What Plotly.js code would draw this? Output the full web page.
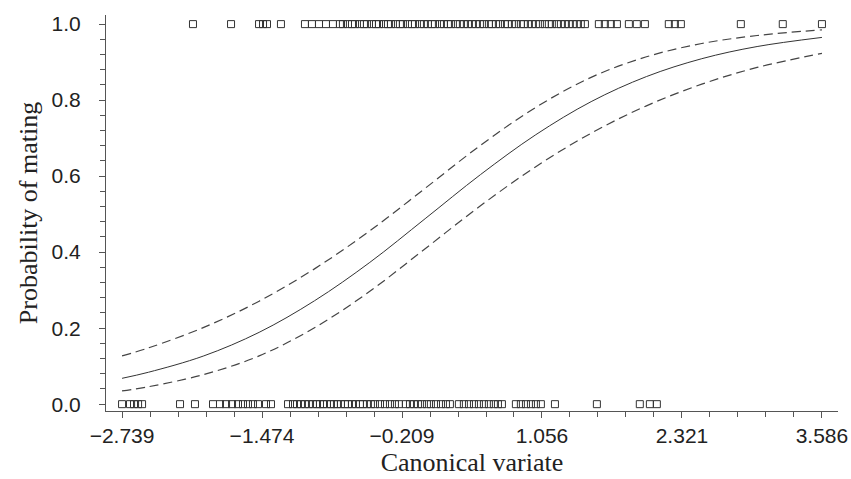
<!DOCTYPE html>
<html>
<head>
<meta charset="utf-8">
<script src="https://cdn.plot.ly/plotly-3.0.1.min.js"></script>
<style>html,body{margin:0;padding:0;background:#fff;}#chart{width:851px;height:479px;}</style>
</head>
<body>
<div id="chart"></div>
<script>
// Fitted probability curve and confidence limits
const curveX = [-2.739, -2.5, -2.0, -1.5, -1.0, -0.5, 0.0, 0.5, 1.0, 1.5, 2.0, 2.5, 3.0, 3.586];
const fitP   = [0.068, 0.084, 0.127, 0.189, 0.272, 0.373, 0.488, 0.604, 0.709, 0.796, 0.862, 0.909, 0.941, 0.965];
const upperP = [0.127, 0.148, 0.202, 0.271, 0.356, 0.456, 0.568, 0.681, 0.781, 0.860, 0.914, 0.949, 0.970, 0.985];
const lowerP = [0.035, 0.046, 0.078, 0.127, 0.201, 0.297, 0.409, 0.522, 0.625, 0.713, 0.785, 0.842, 0.886, 0.923];

// Observations: mated (1) and not mated (0)
const matedX = [-2.098, -1.754, -1.501, -1.465, -1.429, -1.303,
  -1.086, -1.023, -0.959, -0.896, -0.833,
  -0.770, -0.743, -0.697, -0.661, -0.634, -0.589, -0.553, -0.526, -0.481, -0.444,
  -0.417, -0.372, -0.336, -0.309, -0.264, -0.228, -0.201, -0.155, -0.119, -0.092,
  -0.047, -0.011, 0.025, 0.061, 0.089, 0.134, 0.170, 0.206, 0.233, 0.278,
  0.314, 0.350, 0.387, 0.423, 0.459, 0.495, 0.531, 0.576, 0.603, 0.640,
  0.676, 0.721, 0.748, 0.784, 0.820, 0.865, 0.892, 0.929, 0.965, 1.001,
  1.037, 1.082, 1.118, 1.145, 1.191, 1.227, 1.263, 1.299, 1.335, 1.371, 1.407, 1.444,
  1.570, 1.624, 1.678, 1.733, 1.841, 1.913, 1.986, 2.202, 2.257, 2.311,
  2.853, 3.232, 3.586];
const unmatedX = [-2.739, -2.667, -2.631, -2.594, -2.558, -2.215, -2.080,
  -1.917, -1.854, -1.799, -1.745, -1.691, -1.646, -1.601, -1.556, -1.510, -1.438, -1.393,
  -1.239, -1.194, -1.158, -1.122, -1.086, -1.050, -1.014, -0.977, -0.950, -0.923,
  -0.887, -0.851, -0.824, -0.797, -0.761, -0.725, -0.697, -0.661, -0.625, -0.589,
  -0.562, -0.526, -0.490, -0.454, -0.408, -0.363, -0.318, -0.273, -0.237,
  -0.174, -0.137, -0.101, -0.065, -0.029, 0.016, 0.052, 0.098, 0.143, 0.188, 0.224,
  0.305, 0.350, 0.396, 0.441, 0.486, 0.531, 0.576, 0.621, 0.658, 0.694,
  0.820, 0.865, 0.911, 0.956, 1.001, 1.046, 1.173, 1.552, 1.940, 2.031, 2.094];

const xTickVals = [-2.739, -1.474, -0.209, 1.056, 2.321, 3.586];
const xTickText = ['\u22122.739', '\u22121.474', '\u22120.209', '1.056', '2.321', '3.586'];
const yTickVals = [0, 0.2, 0.4, 0.6, 0.8, 1.0];
const yTickText = ['0.0', '0.2', '0.4', '0.6', '0.8', '1.0'];

const markerStyle = {symbol: 'square-open', size: 7, color: '#333', line: {width: 1, color: '#333'}};

const traces = [
  {x: matedX, y: matedX.map(() => 1), type: 'scatter', mode: 'markers', marker: markerStyle, cliponaxis: false, hoverinfo: 'x'},
  {x: unmatedX, y: unmatedX.map(() => 0), type: 'scatter', mode: 'markers', marker: markerStyle, cliponaxis: false, hoverinfo: 'x'},
  {x: curveX, y: upperP, type: 'scatter', mode: 'lines', line: {color: '#444', width: 1.2, dash: '9px,5px', shape: 'spline'}},
  {x: curveX, y: lowerP, type: 'scatter', mode: 'lines', line: {color: '#444', width: 1.2, dash: '9px,5px', shape: 'spline'}},
  {x: curveX, y: fitP, type: 'scatter', mode: 'lines', line: {color: '#333', width: 1, shape: 'spline'}}
];

const layout = {
  width: 851, height: 479,
  margin: {l: 106, r: 13, t: 15, b: 68},
  paper_bgcolor: '#fff', plot_bgcolor: '#fff',
  showlegend: false,
  xaxis: {
    range: [-2.884, 3.731],
    tickmode: 'array', tickvals: xTickVals, ticktext: xTickText,
    ticks: 'outside', ticklen: 6, tickwidth: 1, tickcolor: '#555',
    showline: true, linecolor: '#555', linewidth: 1,
    showgrid: false, zeroline: false,
    minor: {tick0: -2.739, dtick: 0.253, ticks: 'outside', ticklen: 5, tickcolor: '#555', showgrid: false},
    tickfont: {family: 'Liberation Sans, Arial, sans-serif', size: 21, color: '#222'},
    title: {text: 'Canonical variate', font: {family: 'Liberation Serif, Times New Roman, serif', size: 26, color: '#222'}, standoff: 6}
  },
  yaxis: {
    range: [-0.018, 1.024],
    tickmode: 'array', tickvals: yTickVals, ticktext: yTickText,
    ticks: 'outside', ticklen: 6, tickwidth: 1, tickcolor: '#555',
    showline: true, linecolor: '#555', linewidth: 1,
    showgrid: false, zeroline: false,
    ticklabelstandoff: 14,
    minor: {tick0: 0, dtick: 0.04, ticks: 'outside', ticklen: 5, tickcolor: '#555', showgrid: false},
    tickfont: {family: 'Liberation Sans, Arial, sans-serif', size: 21, color: '#222'},
    title: {text: 'Probability of mating', font: {family: 'Liberation Serif, Times New Roman, serif', size: 26, color: '#222'}, standoff: 6}
  }
};

Plotly.newPlot('chart', traces, layout, {displayModeBar: false, staticPlot: true});
</script>
</body>
</html>
